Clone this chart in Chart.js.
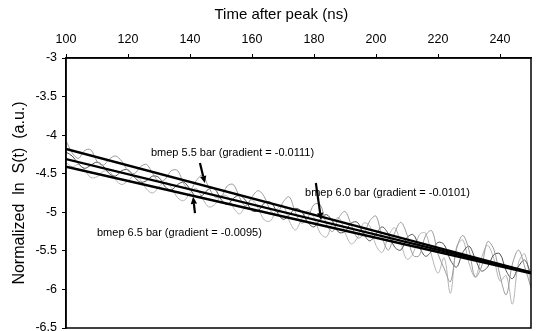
<!DOCTYPE html>
<html>
<head>
<meta charset="utf-8">
<script src="https://cdn.jsdelivr.net/npm/chart.js@4.4.1/dist/chart.umd.min.js"></script>
<style>
  html, body { margin: 0; padding: 0; background: #fff; }
  #c { display: block; }
</style>
</head>
<body>
<canvas id="c" width="536" height="331"></canvas>
<script>
// ---- data ----
const timeNs = [100,102,104,106,108,110,112,114,116,118,120,122,124,126,128,130,132,134,136,138,
  140,142,144,146,148,150,152,154,156,158,160,162,164,166,168,170,172,174,176,178,
  180,182,184,186,188,190,192,194,196,198,200,202,204,206,208,210,212,214,216,218,
  220,222,224,226,228,230,232,234,236,238,240,242,244,246,248,250];

const signal55 = [-4.07,-4.23,-4.30,-4.20,-4.19,-4.34,-4.39,-4.31,-4.27,-4.34,-4.46,-4.50,-4.41,-4.38,-4.50,-4.60,-4.57,-4.46,-4.46,-4.63,
  -4.71,-4.59,-4.52,-4.67,-4.80,-4.80,-4.66,-4.64,-4.81,-4.92,-4.80,-4.72,-4.80,-4.98,-5.03,-4.87,-4.80,-5.00,-5.14,-5.07,
  -4.90,-4.90,-5.15,-5.25,-5.07,-4.99,-5.16,-5.33,-5.29,-5.11,-5.05,-5.33,-5.49,-5.27,-5.13,-5.29,-5.56,-5.56,-5.30,-5.24,
  -5.54,-5.73,-5.90,-5.47,-5.30,-5.49,-5.84,-5.71,-5.38,-5.48,-5.82,-6.07,-5.67,-5.49,-5.71,-5.98];

const signal60 = [-4.22,-4.27,-4.37,-4.43,-4.39,-4.35,-4.40,-4.50,-4.53,-4.46,-4.45,-4.54,-4.61,-4.59,-4.53,-4.55,-4.67,-4.71,-4.64,-4.61,
  -4.70,-4.80,-4.78,-4.70,-4.70,-4.83,-4.90,-4.82,-4.78,-4.85,-4.98,-4.98,-4.88,-4.87,-4.99,-5.09,-5.04,-4.95,-4.99,-5.13,
  -5.19,-5.09,-5.03,-5.12,-5.26,-5.25,-5.14,-5.13,-5.28,-5.37,-5.28,-5.19,-5.28,-5.45,-5.49,-5.33,-5.29,-5.45,-5.57,-5.50,
  -5.39,-5.42,-5.62,-5.71,-5.52,-5.44,-5.60,-5.76,-5.71,-5.55,-5.54,-5.76,-5.86,-5.70,-5.62,-5.81];

const signal65 = [-4.35,-4.41,-4.38,-4.45,-4.55,-4.54,-4.47,-4.47,-4.58,-4.64,-4.59,-4.53,-4.58,-4.70,-4.75,-4.67,-4.61,-4.68,-4.81,-4.85,
  -4.75,-4.69,-4.82,-4.93,-4.90,-4.79,-4.79,-4.94,-5.02,-4.91,-4.84,-4.95,-5.10,-5.11,-4.96,-4.91,-5.11,-5.23,-5.09,-4.98,
  -5.07,-5.27,-5.32,-5.14,-5.07,-5.26,-5.41,-5.33,-5.14,-5.18,-5.43,-5.52,-5.31,-5.20,-5.40,-5.61,-5.53,-5.29,-5.27,-5.57,
  -5.79,-5.59,-6.05,-5.45,-5.36,-5.66,-5.84,-5.59,-5.43,-5.60,-5.89,-5.82,-6.19,-5.65,-5.54,-5.98];

// straight-line fits: value at t=100 and at t=250
const fitTimes = [100, 250];
const fit55 = [-4.18, -5.78];
const fit60 = [-4.31, -5.78];
const fit65 = [-4.41, -5.79];

const xTickValues = [100, 120, 140, 160, 180, 200, 220, 240];
const yTickValues = [-3, -3.5, -4, -4.5, -5, -5.5, -6, -6.5];

const xTitle = 'Time after peak (ns)';
const yTitle = 'Normalized  ln  S(t)  (a.u.)';

// annotation labels: text, anchor (t, value)
const labelTexts = ['bmep 5.5 bar (gradient = -0.0111)', 'bmep 6.0 bar (gradient = -0.0101)', 'bmep 6.5 bar (gradient = -0.0095)'];
const labelT = [127.4, 177.1, 110.0];
const labelV = [-4.23, -4.75, -5.27];
// arrows: from (t,v) to (t,v)
const arrowFromT = [143.2, 180.6, 141.6];
const arrowFromV = [-4.36, -4.62, -5.01];
const arrowToT = [144.8, 182.3, 141.0];
const arrowToV = [-4.62, -5.10, -4.80];

// ---- build datasets ----
const pts = (ts, vs) => ts.map((t, i) => ({ x: t, y: vs[i] }));
const FONT = "'Liberation Sans', Arial, sans-serif";

const frameAndNotes = {
  id: 'frameAndNotes',
  afterDraw(chart) {
    const { ctx, chartArea: a, scales } = chart;
    const xs = scales.x, ys = scales.y;
    ctx.save();
    ctx.strokeStyle = '#000';
    ctx.lineWidth = 1.5;
    ctx.strokeRect(a.left, a.top, a.right - a.left, a.bottom - a.top);
    ctx.fillStyle = '#000';
    ctx.font = '15px ' + FONT;
    ctx.textAlign = 'center';
    ctx.textBaseline = 'middle';
    ctx.fillText(xTitle, a.left + (a.right - a.left) * 0.463, 15);
    ctx.font = '11px ' + FONT;
    ctx.textAlign = 'left';
    labelTexts.forEach((txt, i) => {
      ctx.fillText(txt, xs.getPixelForValue(labelT[i]), ys.getPixelForValue(labelV[i]));
    });
    ctx.lineWidth = 2.2;
    arrowFromT.forEach((_, i) => {
      const x1 = xs.getPixelForValue(arrowFromT[i]), y1 = ys.getPixelForValue(arrowFromV[i]);
      const x2 = xs.getPixelForValue(arrowToT[i]), y2 = ys.getPixelForValue(arrowToV[i]);
      const ang = Math.atan2(y2 - y1, x2 - x1);
      const hl = 7, hw = 3.2;
      const bx = x2 - hl * Math.cos(ang), by = y2 - hl * Math.sin(ang);
      ctx.beginPath();
      ctx.moveTo(x1, y1);
      ctx.lineTo(bx, by);
      ctx.stroke();
      ctx.beginPath();
      ctx.moveTo(x2, y2);
      ctx.lineTo(bx + hw * Math.sin(ang), by - hw * Math.cos(ang));
      ctx.lineTo(bx - hw * Math.sin(ang), by + hw * Math.cos(ang));
      ctx.closePath();
      ctx.fill();
    });
    ctx.restore();
  }
};

const noisy = (label, vals, color) => ({
  label, data: pts(timeNs, vals), borderColor: color, borderWidth: 1,
  pointRadius: 0, tension: 0.35, order: 2, fill: false
});
const fitLine = (label, vals) => ({
  label, data: pts(fitTimes, vals), borderColor: '#000', borderWidth: 2.4,
  pointRadius: 0, tension: 0, order: 0, fill: false
});

new Chart(document.getElementById('c'), {
  type: 'line',
  data: {
    datasets: [
      fitLine('fit 5.5 bar', fit55),
      fitLine('fit 6.0 bar', fit60),
      fitLine('fit 6.5 bar', fit65),
      noisy('bmep 5.5 bar', signal55, '#9a9a9a'),
      noisy('bmep 6.0 bar', signal60, '#505050'),
      noisy('bmep 6.5 bar', signal65, '#b4b4b4')
    ]
  },
  options: {
    responsive: false,
    animation: false,
    layout: { padding: { left: 0, right: 5, top: 0, bottom: 3 } },
    plugins: { legend: { display: false }, tooltip: { enabled: false } },
    scales: {
      x: {
        type: 'linear', position: 'top', min: 100, max: 250,
        afterBuildTicks: (s) => { s.ticks = xTickValues.map(v => ({ value: v })); },
        afterFit: (s) => { s.height = 58; s.paddingLeft = 0; s.paddingRight = 0; },
        grid: { drawOnChartArea: false, drawTicks: true, tickLength: 4, color: '#000' },
        border: { color: '#000', width: 1.5 },
        ticks: { color: '#000', font: { family: FONT, size: 12.5 }, padding: 7, maxRotation: 0 }
      },
      y: {
        type: 'linear', min: -6.5, max: -3,
        afterBuildTicks: (s) => { s.ticks = yTickValues.map(v => ({ value: v })); },
        afterFit: (s) => { s.width = 66; s.paddingTop = 0; s.paddingBottom = 0; },
        grid: { drawOnChartArea: false, drawTicks: true, tickLength: 4, color: '#000' },
        border: { color: '#000', width: 1.5 },
        ticks: { color: '#000', font: { family: FONT, size: 12.5 }, padding: 5, callback: (v) => String(v) },
        title: { display: true, text: yTitle, color: '#000', font: { family: FONT, size: 16 }, padding: { top: 10, bottom: 0 } }
      }
    }
  },
  plugins: [frameAndNotes]
});
</script>
</body>
</html>
